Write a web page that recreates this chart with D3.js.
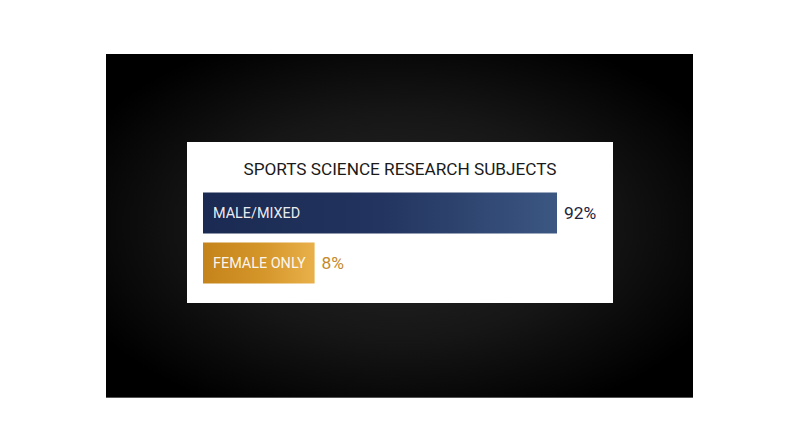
<!DOCTYPE html>
<html>
<head>
<meta charset="utf-8">
<script src="https://cdn.jsdelivr.net/npm/d3@7"></script>
<style>
  html, body { margin: 0; padding: 0; background: #fff; }
  svg { display: block; }
</style>
</head>
<body>
<svg id="chart"></svg>
<script>
// chart data
const categories = ["MALE/MIXED", "FEMALE ONLY"];
const shares = [92, 8];
const valueLabels = ["92%", "8%"];
const title = "SPORTS SCIENCE RESEARCH SUBJECTS";

const width = 800, height = 447;
const svg = d3.select("#chart").attr("width", width).attr("height", height)
  .style("font-family", "Roboto, 'Liberation Sans', sans-serif");

const defs = svg.append("defs");
const bg = defs.append("radialGradient").attr("id", "bg")
  .attr("cx", "50%").attr("cy", "50%").attr("r", "60%");
bg.append("stop").attr("offset", "0%").attr("stop-color", "#272727");
bg.append("stop").attr("offset", "55%").attr("stop-color", "#161616");
bg.append("stop").attr("offset", "100%").attr("stop-color", "#000");

const grads = [["navy", "#1a2a52", "#22345f", "#3b5782"], ["gold", "#c5841b", "#d39428", "#e9b04a"]];
grads.forEach(([id, a, m, b]) => {
  const g = defs.append("linearGradient").attr("id", id);
  g.append("stop").attr("offset", "0%").attr("stop-color", a);
  g.append("stop").attr("offset", "50%").attr("stop-color", m);
  g.append("stop").attr("offset", "100%").attr("stop-color", b);
});

// dark backdrop
svg.append("rect").attr("x", 106).attr("y", 54).attr("width", 587).attr("height", 344)
  .attr("fill", "url(#bg)");
svg.append("line").attr("x1", 106).attr("x2", 693).attr("y1", 397.5).attr("y2", 397.5)
  .attr("stroke", "#555").attr("stroke-width", 1);

// white card
svg.append("rect").attr("x", 187).attr("y", 142).attr("width", 426).attr("height", 161)
  .attr("fill", "#fff");

svg.append("text").attr("x", 400).attr("y", 174.5)
  .attr("text-anchor", "middle").attr("font-size", 17.2).attr("fill", "#1a1a1a")
  .text(title);

const x = d3.scaleLinear().domain([0, 92]).range([0, 354]);
const y = d3.scaleBand().domain(categories).range([192.5, 283.5]).paddingInner(0.18);
const colors = ["url(#navy)", "url(#gold)"];
const valueColors = ["#1e2440", "#c48a2c"];

const rows = svg.append("g").selectAll("g").data(categories).join("g")
  .attr("transform", d => `translate(203,${y(d)})`);

const labels = rows.append("text")
  .attr("x", 10).attr("y", y.bandwidth() / 2).attr("dy", "0.36em")
  .attr("font-size", 14.4).attr("fill", "#fff").attr("fill-opacity", 0.93)
  .text(d => d);

// bars keep room for their label
const barW = [];
labels.each(function(d, i) {
  barW[i] = Math.max(x(shares[i]), this.getComputedTextLength() + 19);
});

rows.insert("rect", "text")
  .attr("width", (d, i) => barW[i]).attr("height", y.bandwidth())
  .attr("fill", (d, i) => colors[i]);

rows.append("text")
  .attr("x", (d, i) => barW[i] + 7).attr("y", y.bandwidth() / 2).attr("dy", "0.36em")
  .attr("font-size", 17.4).attr("fill", (d, i) => valueColors[i])
  .text((d, i) => valueLabels[i]);
</script>
</body>
</html>
